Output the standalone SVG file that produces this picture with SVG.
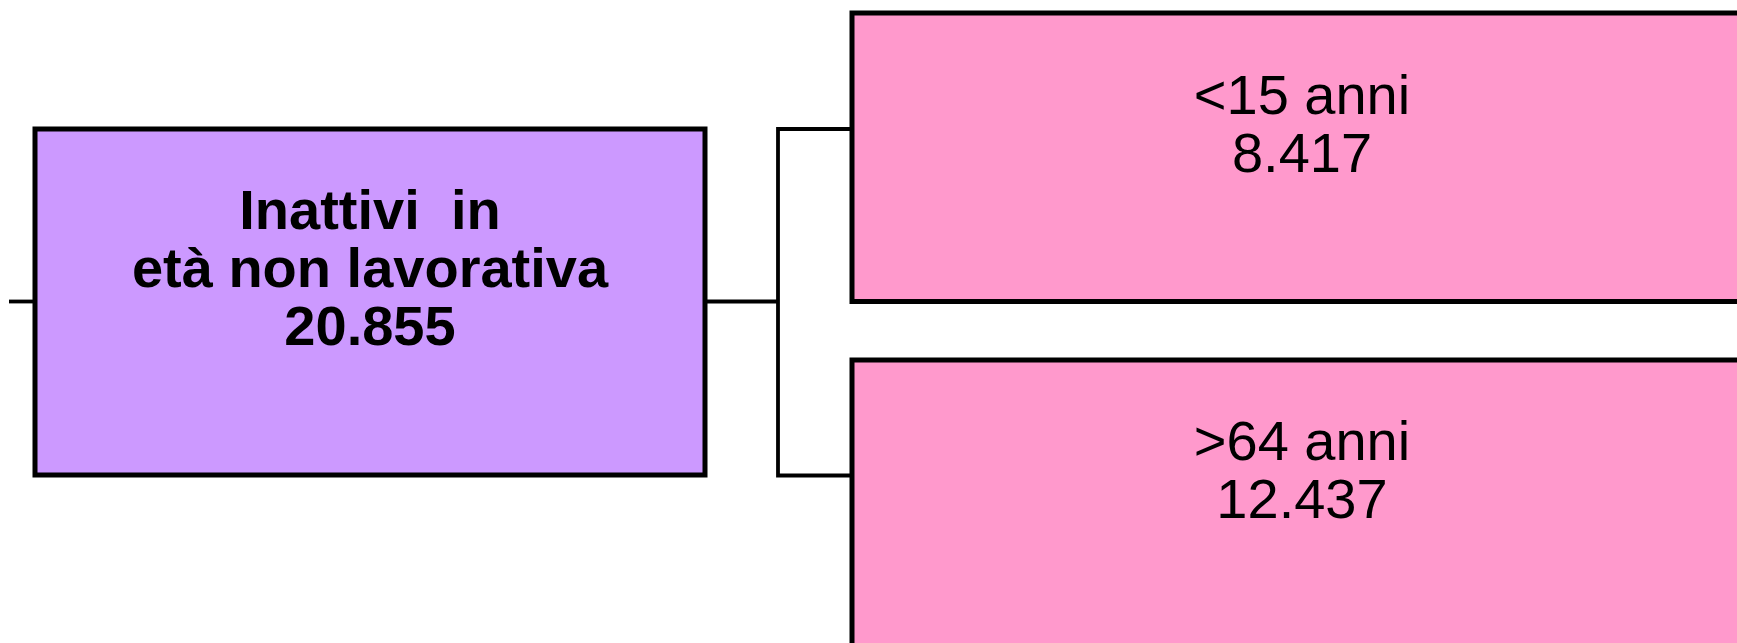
<svg xmlns="http://www.w3.org/2000/svg" width="1737" height="643" viewBox="0 0 1737 643">
<style>
.box{stroke:#000;stroke-width:5}
.conn{fill:none;stroke:#000;stroke-width:3.8}
.t{font-family:"Liberation Sans",Arial,sans-serif;font-size:56px;text-anchor:middle;fill:#000;white-space:pre}
.b{font-weight:bold}
</style>
<rect width="1737" height="643" fill="#fff"/>
<g id="connectors">
<line class="conn" x1="9" y1="301.5" x2="35" y2="301.5"/>
<line class="conn" x1="705" y1="301.5" x2="778" y2="301.5"/>
<polyline class="conn" points="852,129 778,129 778,475.5 852,475.5"/>
</g>
<g id="node-root">
<rect class="box" x="35" y="129" width="670" height="346" fill="#CC99FF"/>
<text class="t b" x="370" y="229" xml:space="preserve">Inattivi  in</text>
<text class="t b" x="370" y="287">età non lavorativa</text>
<text class="t b" x="370" y="345">20.855</text>
</g>
<g id="node-under15">
<rect class="box" x="852" y="13" width="920" height="288.5" fill="#FF99CC"/>
<text class="t" x="1302" y="114">&lt;15 anni</text>
<text class="t" x="1302" y="172">8.417</text>
</g>
<g id="node-over64">
<rect class="box" x="852" y="360" width="920" height="320" fill="#FF99CC"/>
<text class="t" x="1302" y="460">&gt;64 anni</text>
<text class="t" x="1302" y="517.5">12.437</text>
</g>
</svg>
